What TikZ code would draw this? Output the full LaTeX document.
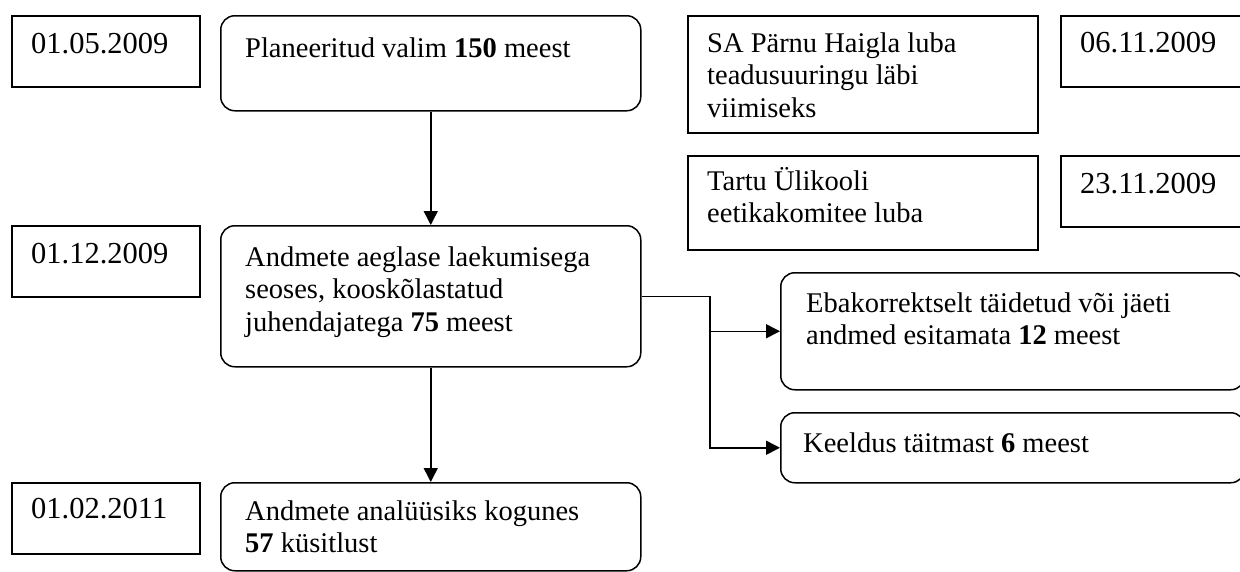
\documentclass[tikz,border=0pt]{standalone}
\usepackage{fontspec}
\setmainfont{Liberation Serif}
\usetikzlibrary{arrows.meta}
\begin{document}
\begin{tikzpicture}[x=1pt,y=-1pt,
  box/.style={draw, line width=1.5pt, inner sep=0pt, anchor=north west},
  datebox/.style={box, minimum width=188pt, minimum height=71pt},
  rbox/.style={box, rounded corners=14pt},
  txt/.style={anchor=base west, inner sep=0pt, font=\fontsize{28.5}{32.5}\selectfont},
  datetxt/.style={txt, font=\fontsize{30.5}{34}\selectfont},
  arr/.style={line width=1.5pt, -{Triangle[length=14pt,width=14pt]}}]
\useasboundingbox (0,0) rectangle (1240,571);
\clip (0,0) rectangle (1240,571);
\fill[white] (0,0) rectangle (1240,571);
% date boxes
\node[datebox] (d1) at (11,15) {};
\node[datebox] (d2) at (11,225) {};
\node[datebox] (d3) at (11,482) {};
\node[datebox] (d4) at (1060,15) {};
\node[datebox] (d5) at (1060,155) {};
% main flow boxes
\node[rbox, minimum width=420pt, minimum height=95pt] (a) at (220,15) {};
\node[rbox, minimum width=420pt, minimum height=141pt] (b) at (220,225) {};
\node[rbox, minimum width=420pt, minimum height=88pt] (c) at (220,482) {};
% approval boxes
\node[box, minimum width=350pt, minimum height=117pt] (sa) at (687,15) {};
\node[box, minimum width=350pt, minimum height=94pt] (tu) at (687,155) {};
% exclusion boxes
\node[rbox, minimum width=464pt, minimum height=117pt] (e) at (780,272) {};
\node[rbox, minimum width=464pt, minimum height=70pt] (k) at (780,412) {};
% texts
\node[datetxt] (t1) at (31,53) {01.05.2009};
\node[datetxt] (t2) at (31,263) {01.12.2009};
\node[datetxt] (t3) at (31,518) {01.02.2011};
\node[datetxt] (t4) at (1080,52) {06.11.2009};
\node[datetxt] (t5) at (1080,193) {23.11.2009};
\node[txt] (ta) at (245,57) {Planeeritud valim \textbf{150} meest};
\node[txt] (tb) at (245,266) {\begin{tabular}[t]{@{}l@{}}Andmete aeglase laekumisega\\ seoses, kooskõlastatud\\ juhendajatega \textbf{75} meest\end{tabular}};
\node[txt] (tc) at (245,520) {\begin{tabular}[t]{@{}l@{}}Andmete analüüsiks kogunes\\ \textbf{57} küsitlust\end{tabular}};
\node[txt] (tsa) at (707,52) {\begin{tabular}[t]{@{}l@{}}SA Pärnu Haigla luba\\ teadusuuringu läbi\\ viimiseks\end{tabular}};
\node[txt] (ttu) at (707,190) {\begin{tabular}[t]{@{}l@{}}Tartu Ülikooli\\ eetikakomitee luba\end{tabular}};
\node[txt] (te) at (806,312) {\begin{tabular}[t]{@{}l@{}}Ebakorrektselt täidetud või jäeti\\ andmed esitamata \textbf{12} meest\end{tabular}};
\node[txt] (tk) at (803,452) {Keeldus täitmast \textbf{6} meest};
% connectors
\draw[arr] (a.south) -- (b.north);
\draw[arr] (b.south) -- (c.north);
\coordinate (j) at (710,0);
\draw[line width=1.5pt] (b.east) -- (j |- b.east);
\draw[arr] (j |- b.east) |- (k.west);
\draw[arr] (j |- e.west) -- (e.west);
\end{tikzpicture}
\end{document}
